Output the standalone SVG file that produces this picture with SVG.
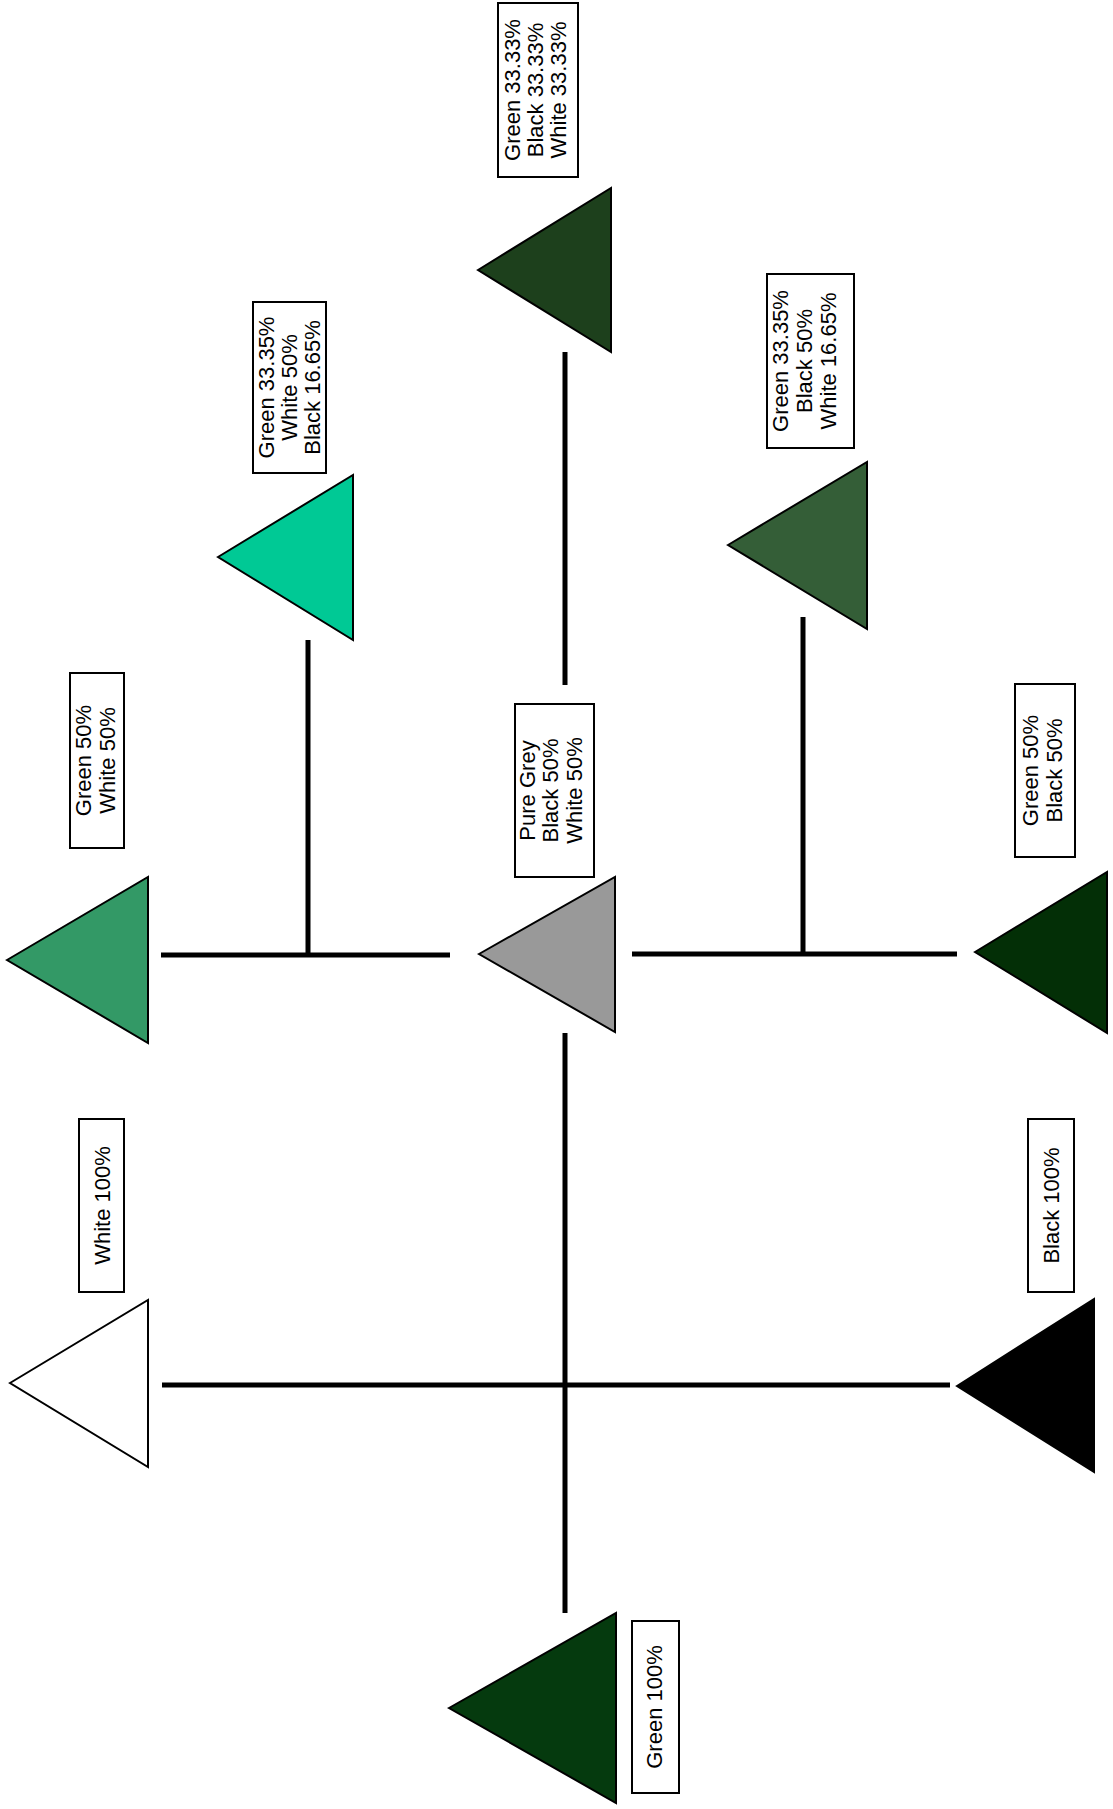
<svg xmlns="http://www.w3.org/2000/svg" width="1113" height="1809" viewBox="0 0 1113 1809">
<style>
.tri{stroke:#000;stroke-width:2;stroke-linejoin:miter}
.box{fill:#fff;stroke:#000;stroke-width:2}
.lbl{font-family:"Liberation Sans",Arial,sans-serif;font-size:22px;fill:#000;text-anchor:middle}
.con{stroke:#000;stroke-width:5;fill:none}
</style>
<rect width="1113" height="1809" fill="#fff"/>
<g id="connectors">
<line class="con" x1="565" y1="352" x2="565" y2="685"/>
<line class="con" x1="565" y1="1033" x2="565" y2="1613"/>
<line class="con" x1="161" y1="955" x2="450" y2="955"/>
<line class="con" x1="308" y1="640" x2="308" y2="955"/>
<line class="con" x1="632" y1="954" x2="957" y2="954"/>
<line class="con" x1="803" y1="617" x2="803" y2="954"/>
<line class="con" x1="162" y1="1385" x2="950" y2="1385"/>
</g>
<g id="node-g33-b33-w33">
<polygon class="tri" fill="#1d401c" points="478,270 611,188 611,352"/>
<rect class="box" x="498" y="3" width="80" height="174"/>
<g transform="translate(0,90) rotate(-90)"><text class="lbl" x="0" y="520">Green 33.33%</text><text class="lbl" x="0" y="543">Black 33.33%</text><text class="lbl" x="0" y="566">White 33.33%</text></g>
</g>
<g id="node-g33-w50-b16">
<polygon class="tri" fill="#00c995" points="218,557 353,475 353,640"/>
<rect class="box" x="253" y="302" width="73" height="171"/>
<g transform="translate(0,387.5) rotate(-90)"><text class="lbl" x="0" y="274">Green 33.35%</text><text class="lbl" x="0" y="297">White 50%</text><text class="lbl" x="0" y="320">Black 16.65%</text></g>
</g>
<g id="node-g50-w50">
<polygon class="tri" fill="#339966" points="7,960 148,877 148,1043"/>
<rect class="box" x="70" y="673" width="54" height="175"/>
<g transform="translate(0,760.5) rotate(-90)"><text class="lbl" x="0" y="91">Green 50%</text><text class="lbl" x="0" y="115">White 50%</text></g>
</g>
<g id="node-grey">
<polygon class="tri" fill="#999999" points="479,954 615,877 615,1032"/>
<rect class="box" x="515" y="704" width="79" height="173"/>
<g transform="translate(0,790.5) rotate(-90)"><text class="lbl" x="0" y="535">Pure Grey</text><text class="lbl" x="0" y="558">Black 50%</text><text class="lbl" x="0" y="582">White 50%</text></g>
</g>
<g id="node-g33-b50-w16">
<polygon class="tri" fill="#345e37" points="728,545 867,462 867,629"/>
<rect class="box" x="767" y="274" width="87" height="174"/>
<g transform="translate(0,361) rotate(-90)"><text class="lbl" x="0" y="788">Green 33.35%</text><text class="lbl" x="0" y="812">Black 50%</text><text class="lbl" x="0" y="836">White 16.65%</text></g>
</g>
<g id="node-g50-b50">
<polygon class="tri" fill="#032f06" points="975,952 1107,872 1107,1033"/>
<rect class="box" x="1015" y="684" width="60" height="173"/>
<g transform="translate(0,770.5) rotate(-90)"><text class="lbl" x="0" y="1038">Green 50%</text><text class="lbl" x="0" y="1062">Black 50%</text></g>
</g>
<g id="node-white">
<polygon class="tri" fill="#ffffff" points="10,1383 148,1300 148,1467"/>
<rect class="box" x="79" y="1119" width="45" height="173"/>
<g transform="translate(0,1205.5) rotate(-90)"><text class="lbl" x="0" y="110">White 100%</text></g>
</g>
<g id="node-black">
<polygon class="tri" fill="#000000" points="957,1386 1094,1299 1094,1472"/>
<rect class="box" x="1028" y="1119" width="46" height="173"/>
<g transform="translate(0,1205.5) rotate(-90)"><text class="lbl" x="0" y="1059">Black 100%</text></g>
</g>
<g id="node-green">
<polygon class="tri" fill="#053a0e" points="449,1708 616,1613 616,1803"/>
<rect class="box" x="632" y="1621" width="47" height="172"/>
<g transform="translate(0,1707) rotate(-90)"><text class="lbl" x="0" y="662">Green 100%</text></g>
</g>
</svg>
